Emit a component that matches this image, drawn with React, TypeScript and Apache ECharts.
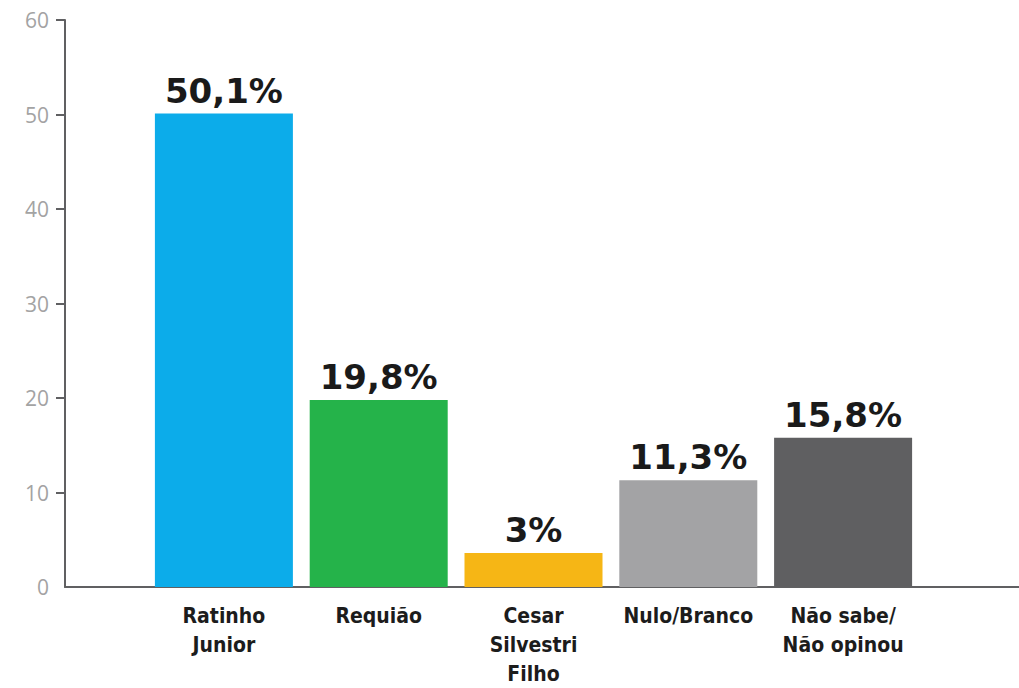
import React, { useEffect, useRef } from "react";
import * as echarts from "echarts";

const categories = ["Ratinho\nJunior", "Requião", "Cesar\nSilvestri\nFilho", "Nulo/Branco", "Não sabe/\nNão opinou"];
const values = [50.1, 19.8, 3.6, 11.3, 15.8];
const valueLabels = ["50,1%", "19,8%", "3%", "11,3%", "15,8%"];
const barColors = ["#0cacea", "#25b34a", "#f6b615", "#a3a3a5", "#5f5f61"];
const yTicks = [10, 20, 30, 40, 50, 60];

export default function App() {
  const ref = useRef<HTMLDivElement>(null);
  useEffect(() => {
    if (!ref.current) return;
    const chart = echarts.init(ref.current, undefined, { renderer: "svg" });
    const gridTop = 20;
    const gridBottom = 101;
    chart.setOption({
      animation: false,
      backgroundColor: "#ffffff",
      grid: [
        { left: 146.5, right: 98.5, top: gridTop, bottom: gridBottom },
        { left: 65, right: 0, top: gridTop, bottom: gridBottom },
      ],
      xAxis: [
        {
          type: "category",
          gridIndex: 0,
          data: categories,
          axisLine: { show: false },
          axisTick: { show: false },
          axisLabel: {
            margin: 14,
            interval: 0,
            color: "#1c1c1c",
            fontFamily: "'DejaVu Sans Condensed', 'Liberation Sans Narrow', sans-serif",
            fontWeight: "bold",
            fontSize: 21,
            lineHeight: 29,
          },
        },
        {
          type: "value",
          gridIndex: 1,
          min: 0,
          max: 1,
          axisLine: { show: true, lineStyle: { color: "#606062", width: 2 } },
          axisTick: { show: false },
          axisLabel: { show: false },
          splitLine: { show: false },
        },
      ],
      yAxis: [
        {
          type: "value",
          gridIndex: 0,
          min: 0,
          max: 60,
          show: false,
          splitLine: { show: false },
        },
        {
          type: "value",
          gridIndex: 1,
          min: 0,
          max: 60,
          interval: 10,
          axisLine: { show: true, lineStyle: { color: "#606062", width: 2 } },
          axisTick: {
            show: true,
            length: 9,
            customValues: yTicks,
            lineStyle: { color: "#606062", width: 2 },
          },
          axisLabel: {
            margin: 16,
            color: "#a3a3a3",
            fontSize: 21,
            fontFamily: "'Open Sans', 'DejaVu Sans', sans-serif",
          },
          splitLine: { show: false },
        },
      ],
      series: [
        {
          type: "bar",
          xAxisIndex: 0,
          yAxisIndex: 0,
          barWidth: 138,
          data: values.map((v, i) => ({ value: v, itemStyle: { color: barColors[i] } })),
          label: {
            show: true,
            position: "top",
            distance: 6,
            formatter: (p: any) => valueLabels[p.dataIndex],
            color: "#1a1a1a",
            fontFamily: "'DejaVu Sans', Verdana, sans-serif",
            fontWeight: "bold",
            fontSize: 34,
          },
        },
      ],
    });
    return () => chart.dispose();
  }, []);
  return (
    <div
      ref={ref}
      style={{ position: "fixed", left: 0, top: 0, width: 1019, height: 688 }}
    />
  );
}
